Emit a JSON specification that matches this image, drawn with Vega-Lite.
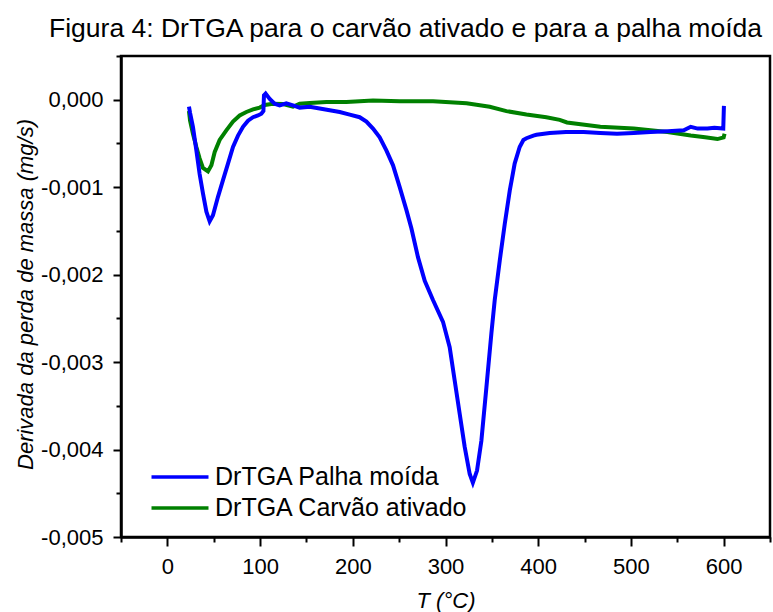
{
  "$schema": "https://vega.github.io/schema/vega-lite/v6.json",
  "width": 649,
  "height": 481,
  "autosize": {"type": "none"},
  "padding": {"left": 121, "top": 56, "right": 3, "bottom": 75},
  "background": "white",
  "title": {
    "text": "Figura 4: DrTGA para o carvão ativado e para a palha moída",
    "anchor": "end",
    "frame": "group",
    "dx": -8,
    "offset": -8,
    "baseline": "alphabetic",
    "font": "Liberation Sans",
    "fontSize": 26.5,
    "fontWeight": "normal",
    "color": "black"
  },
  "data": {
    "values": [
      {"s": "DrTGA Carvão ativado", "T": 23.3, "v": -0.00013},
      {"s": "DrTGA Carvão ativado", "T": 24.5, "v": -0.00024},
      {"s": "DrTGA Carvão ativado", "T": 27.6, "v": -0.00039},
      {"s": "DrTGA Carvão ativado", "T": 31.3, "v": -0.00054},
      {"s": "DrTGA Carvão ativado", "T": 34.8, "v": -0.00067},
      {"s": "DrTGA Carvão ativado", "T": 38.4, "v": -0.00078},
      {"s": "DrTGA Carvão ativado", "T": 43.8, "v": -0.00082},
      {"s": "DrTGA Carvão ativado", "T": 47.5, "v": -0.00075},
      {"s": "DrTGA Carvão ativado", "T": 51.0, "v": -0.0006},
      {"s": "DrTGA Carvão ativado", "T": 56.4, "v": -0.00046},
      {"s": "DrTGA Carvão ativado", "T": 63.6, "v": -0.00035},
      {"s": "DrTGA Carvão ativado", "T": 70.8, "v": -0.00025},
      {"s": "DrTGA Carvão ativado", "T": 78.0, "v": -0.00018},
      {"s": "DrTGA Carvão ativado", "T": 85.2, "v": -0.00014},
      {"s": "DrTGA Carvão ativado", "T": 92.4, "v": -0.00011},
      {"s": "DrTGA Carvão ativado", "T": 99.6, "v": -0.00009},
      {"s": "DrTGA Carvão ativado", "T": 105.0, "v": -0.00006},
      {"s": "DrTGA Carvão ativado", "T": 113.9, "v": -0.000045},
      {"s": "DrTGA Carvão ativado", "T": 124.7, "v": -0.00005},
      {"s": "DrTGA Carvão ativado", "T": 135.5, "v": -0.00008},
      {"s": "DrTGA Carvão ativado", "T": 142.7, "v": -0.000045},
      {"s": "DrTGA Carvão ativado", "T": 153.5, "v": -0.000037},
      {"s": "DrTGA Carvão ativado", "T": 171.5, "v": -0.000026},
      {"s": "DrTGA Carvão ativado", "T": 193.1, "v": -0.000026},
      {"s": "DrTGA Carvão ativado", "T": 221.8, "v": -0.00001},
      {"s": "DrTGA Carvão ativado", "T": 250.6, "v": -0.000017},
      {"s": "DrTGA Carvão ativado", "T": 286.6, "v": -0.000017},
      {"s": "DrTGA Carvão ativado", "T": 322.7, "v": -0.00004},
      {"s": "DrTGA Carvão ativado", "T": 347.7, "v": -0.00008},
      {"s": "DrTGA Carvão ativado", "T": 365.7, "v": -0.00013},
      {"s": "DrTGA Carvão ativado", "T": 387.3, "v": -0.00017},
      {"s": "DrTGA Carvão ativado", "T": 408.8, "v": -0.0002},
      {"s": "DrTGA Carvão ativado", "T": 423.2, "v": -0.00023},
      {"s": "DrTGA Carvão ativado", "T": 431.0, "v": -0.00026},
      {"s": "DrTGA Carvão ativado", "T": 467.0, "v": -0.00031},
      {"s": "DrTGA Carvão ativado", "T": 503.0, "v": -0.00033},
      {"s": "DrTGA Carvão ativado", "T": 539.3, "v": -0.00037},
      {"s": "DrTGA Carvão ativado", "T": 564.5, "v": -0.00041},
      {"s": "DrTGA Carvão ativado", "T": 580.0, "v": -0.00043},
      {"s": "DrTGA Carvão ativado", "T": 593.3, "v": -0.00045},
      {"s": "DrTGA Carvão ativado", "T": 600.0, "v": -0.00043},
      {"s": "DrTGA Carvão ativado", "T": 601.0, "v": -0.00039},
      {"s": "DrTGA Palha moída", "T": 23.3, "v": -0.00008},
      {"s": "DrTGA Palha moída", "T": 24.5, "v": -0.00015},
      {"s": "DrTGA Palha moída", "T": 27.6, "v": -0.00031},
      {"s": "DrTGA Palha moída", "T": 31.3, "v": -0.00058},
      {"s": "DrTGA Palha moída", "T": 34.8, "v": -0.00085},
      {"s": "DrTGA Palha moída", "T": 38.4, "v": -0.00107},
      {"s": "DrTGA Palha moída", "T": 42.1, "v": -0.00128},
      {"s": "DrTGA Palha moída", "T": 45.6, "v": -0.00139},
      {"s": "DrTGA Palha moída", "T": 49.2, "v": -0.00132},
      {"s": "DrTGA Palha moída", "T": 54.6, "v": -0.00111},
      {"s": "DrTGA Palha moída", "T": 60.0, "v": -0.00092},
      {"s": "DrTGA Palha moída", "T": 65.4, "v": -0.00073},
      {"s": "DrTGA Palha moída", "T": 70.8, "v": -0.00054},
      {"s": "DrTGA Palha moída", "T": 76.2, "v": -0.00041},
      {"s": "DrTGA Palha moída", "T": 81.6, "v": -0.00031},
      {"s": "DrTGA Palha moída", "T": 87.0, "v": -0.00024},
      {"s": "DrTGA Palha moída", "T": 92.4, "v": -0.0002},
      {"s": "DrTGA Palha moída", "T": 97.7, "v": -0.00018},
      {"s": "DrTGA Palha moída", "T": 101.4, "v": -0.00016},
      {"s": "DrTGA Palha moída", "T": 103.6, "v": -0.00013},
      {"s": "DrTGA Palha moída", "T": 104.2, "v": 0.00005},
      {"s": "DrTGA Palha moída", "T": 106.0, "v": 0.00007},
      {"s": "DrTGA Palha moída", "T": 110.4, "v": 0.00001},
      {"s": "DrTGA Palha moída", "T": 115.7, "v": -0.000045},
      {"s": "DrTGA Palha moída", "T": 121.1, "v": -0.000064},
      {"s": "DrTGA Palha moída", "T": 128.3, "v": -0.00004},
      {"s": "DrTGA Palha moída", "T": 135.5, "v": -0.000064},
      {"s": "DrTGA Palha moída", "T": 142.7, "v": -0.00009},
      {"s": "DrTGA Palha moída", "T": 153.5, "v": -0.00008},
      {"s": "DrTGA Palha moída", "T": 164.3, "v": -0.0001},
      {"s": "DrTGA Palha moída", "T": 175.1, "v": -0.00012},
      {"s": "DrTGA Palha moída", "T": 185.9, "v": -0.00014},
      {"s": "DrTGA Palha moída", "T": 196.7, "v": -0.00017},
      {"s": "DrTGA Palha moída", "T": 207.4, "v": -0.0002},
      {"s": "DrTGA Palha moída", "T": 214.7, "v": -0.00025},
      {"s": "DrTGA Palha moída", "T": 221.8, "v": -0.00033},
      {"s": "DrTGA Palha moída", "T": 229.0, "v": -0.00043},
      {"s": "DrTGA Palha moída", "T": 236.2, "v": -0.00058},
      {"s": "DrTGA Palha moída", "T": 243.4, "v": -0.00075},
      {"s": "DrTGA Palha moída", "T": 250.6, "v": -0.001},
      {"s": "DrTGA Palha moída", "T": 257.8, "v": -0.00126},
      {"s": "DrTGA Palha moída", "T": 263.2, "v": -0.00147},
      {"s": "DrTGA Palha moída", "T": 270.3, "v": -0.0018},
      {"s": "DrTGA Palha moída", "T": 277.6, "v": -0.00207},
      {"s": "DrTGA Palha moída", "T": 286.5, "v": -0.00229},
      {"s": "DrTGA Palha moída", "T": 297.3, "v": -0.00254},
      {"s": "DrTGA Palha moída", "T": 304.5, "v": -0.00283},
      {"s": "DrTGA Palha moída", "T": 309.9, "v": -0.00321},
      {"s": "DrTGA Palha moída", "T": 315.3, "v": -0.00359},
      {"s": "DrTGA Palha moída", "T": 320.7, "v": -0.00397},
      {"s": "DrTGA Palha moída", "T": 326.1, "v": -0.00428},
      {"s": "DrTGA Palha moída", "T": 329.5, "v": -0.00438},
      {"s": "DrTGA Palha moída", "T": 334.0, "v": -0.00424},
      {"s": "DrTGA Palha moída", "T": 338.7, "v": -0.0039},
      {"s": "DrTGA Palha moída", "T": 344.1, "v": -0.00329},
      {"s": "DrTGA Palha moída", "T": 349.5, "v": -0.00267},
      {"s": "DrTGA Palha moída", "T": 353.1, "v": -0.00229},
      {"s": "DrTGA Palha moída", "T": 358.5, "v": -0.00184},
      {"s": "DrTGA Palha moída", "T": 363.9, "v": -0.00142},
      {"s": "DrTGA Palha moída", "T": 369.3, "v": -0.00104},
      {"s": "DrTGA Palha moída", "T": 374.6, "v": -0.00073},
      {"s": "DrTGA Palha moída", "T": 380.0, "v": -0.00054},
      {"s": "DrTGA Palha moída", "T": 384.0, "v": -0.00046},
      {"s": "DrTGA Palha moída", "T": 387.3, "v": -0.00044},
      {"s": "DrTGA Palha moída", "T": 394.8, "v": -0.00041},
      {"s": "DrTGA Palha moída", "T": 398.1, "v": -0.0004},
      {"s": "DrTGA Palha moída", "T": 412.4, "v": -0.00038},
      {"s": "DrTGA Palha moída", "T": 430.0, "v": -0.00037},
      {"s": "DrTGA Palha moída", "T": 449.0, "v": -0.00037},
      {"s": "DrTGA Palha moída", "T": 467.0, "v": -0.00038},
      {"s": "DrTGA Palha moída", "T": 485.0, "v": -0.00039},
      {"s": "DrTGA Palha moída", "T": 503.0, "v": -0.00038},
      {"s": "DrTGA Palha moída", "T": 521.0, "v": -0.00037},
      {"s": "DrTGA Palha moída", "T": 540.0, "v": -0.00036},
      {"s": "DrTGA Palha moída", "T": 557.0, "v": -0.00035},
      {"s": "DrTGA Palha moída", "T": 564.5, "v": -0.00031},
      {"s": "DrTGA Palha moída", "T": 572.0, "v": -0.00033},
      {"s": "DrTGA Palha moída", "T": 582.5, "v": -0.00033},
      {"s": "DrTGA Palha moída", "T": 590.0, "v": -0.00032},
      {"s": "DrTGA Palha moída", "T": 599.6, "v": -0.00033},
      {"s": "DrTGA Palha moída", "T": 600.3, "v": -0.00007}
    ]
  },
  "mark": {"type": "line", "strokeWidth": 4, "interpolate": "linear"},
  "encoding": {
    "x": {
      "field": "T",
      "type": "quantitative",
      "scale": {"domain": [-50, 650], "nice": false, "zero": false},
      "axis": {
        "title": "T (°C)",
        "values": [-50, 0, 50, 100, 150, 200, 250, 300, 350, 400, 450, 500, 550, 600, 650],
        "labelExpr": "datum.value % 100 === 0 ? datum.label : ''",
        "tickSize": {"condition": {"test": "datum.value % 100 === 0", "value": 9}, "value": 5},
        "labelPadding": 10,
        "titleY": 70,
        "titleBaseline": "alphabetic"
      }
    },
    "y": {
      "field": "v",
      "type": "quantitative",
      "scale": {"domain": [-0.005, 0.0005], "nice": false, "zero": false},
      "axis": {
        "title": "Derivada da perda de massa (mg/s)",
        "values": [-0.005, -0.0045, -0.004, -0.0035, -0.003, -0.0025, -0.002, -0.0015, -0.001, -0.0005, 0, 0.0005],
        "labelExpr": "abs(round(datum.value * 10000)) % 10 === 0 ? replace(replace(format(datum.value, '.3f'), '.', ','), '\u2212', '-') : ''",
        "tickSize": {"condition": {"test": "abs(round(datum.value * 10000)) % 10 === 0", "value": 8}, "value": 5},
        "labelPadding": 10,
        "titleX": -89,
        "titleY": 238,
        "titleAngle": -90,
        "titleBaseline": "alphabetic"
      }
    },
    "color": {
      "field": "s",
      "type": "nominal",
      "scale": {"domain": ["DrTGA Palha moída", "DrTGA Carvão ativado"], "range": ["#0000ff", "#008000"]},
      "legend": {
        "title": null,
        "orient": "none",
        "legendX": 43,
        "legendY": 405,
        "padding": 0,
        "symbolType": "M-2,0H2",
        "symbolSize": 812,
        "symbolStrokeWidth": 3.5,
        "labelOffset": 19,
        "rowPadding": 2,
        "labelFont": "Liberation Sans",
        "labelFontSize": 25,
        "labelColor": "black",
        "labelLimit": 400
      }
    }
  },
  "config": {
    "view": {"stroke": "black", "strokeWidth": 2.5},
    "axis": {
      "grid": false,
      "domainColor": "black",
      "domainWidth": 2.5,
      "tickColor": "black",
      "tickWidth": 2,
      "labelFont": "Liberation Sans",
      "labelFontSize": 22,
      "labelColor": "black",
      "titleFont": "Liberation Sans",
      "titleFontSize": 22,
      "titleFontStyle": "italic",
      "titleFontWeight": "normal",
      "titleColor": "black"
    }
  }
}
